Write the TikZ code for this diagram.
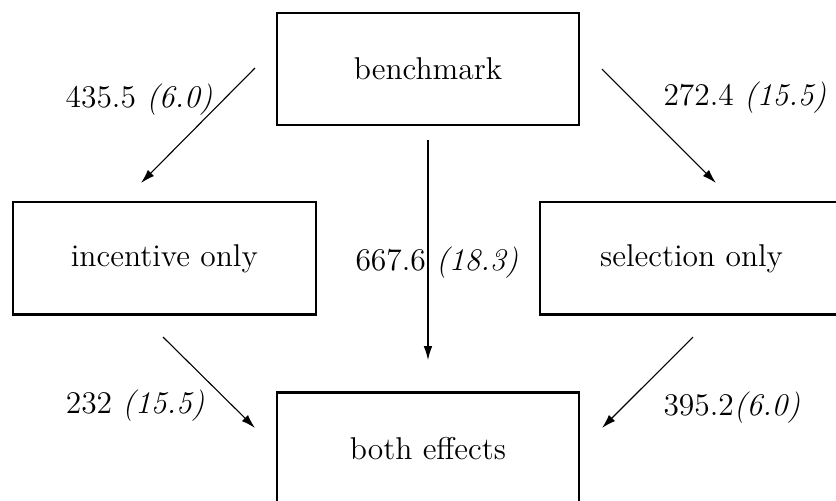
\documentclass[tikz,border=0pt]{standalone}
\usepackage{tikz}
\usetikzlibrary{positioning, arrows.meta}
\tikzset{
node distance=0.96cm,
Box/.style={
	draw, rectangle,
	line width=0.8pt,
	minimum width=3.88cm,
	minimum height=1.44cm,
	font=\fontsize{11.5}{13.8}\selectfont
},
Edge/.style={
	draw=black,
	line width=0.4pt,
	-{Latex[length=1.8mm, width=1.1mm]}
},
MainEdge/.style={
	Edge,
	line width=0.6pt
},
Label/.style={
	inner sep=0pt,
	font=\fontsize{11.5}{13.8}\selectfont
}
}

\begin{document}
\begin{tikzpicture}
	\useasboundingbox (0,0) rectangle (10.718,-6.423);

	\node[Box] (bench) at (5.487,-0.885) {benchmark};
	\node[Box, below=of bench, xshift=-3.38cm] (incent) {incentive only};
	\node[Box, below=of bench, xshift=3.38cm] (select) {selection only};
	\node[Box, below=3.4cm of bench] (both) {both effects};

	\coordinate (bi1) at (3.269,-0.872);
	\coordinate (bi2) at (1.808,-2.346);
	\coordinate (bs1) at (7.718,-0.885);
	\coordinate (bs2) at (9.179,-2.346);
	\coordinate (ib1) at (2.090,-4.321);
	\coordinate (ib2) at (3.269,-5.487);
	\coordinate (sb1) at (8.885,-4.321);
	\coordinate (sb2) at (7.718,-5.487);

	\draw[Edge] (bi1) -- (bi2);
	\draw[Edge] (bs1) -- (bs2);
	\draw[Edge] (ib1) -- (ib2);
	\draw[Edge] (sb1) -- (sb2);
	\draw[MainEdge, shorten <=0.18cm, shorten >=0.4cm] (bench) -- (both);

	\node[Label, anchor=east] (lbi) at (2.731,-1.282) {435.5 \textit{(6.0)}};
	\node[Label, anchor=west] (lbs) at (8.5,-1.256) {272.4 \textit{(15.5)}};
	\node[Label, anchor=west] (lbb) at (4.551,-3.372) {667.6 \textit{(18.3)}};
	\node[Label, anchor=east] (lib) at (2.628,-5.205) {232 \textit{(15.5)}};
	\node[Label, anchor=west] (lsb) at (8.5,-5.231) {395.2\textit{(6.0)}};
\end{tikzpicture}
\end{document}
